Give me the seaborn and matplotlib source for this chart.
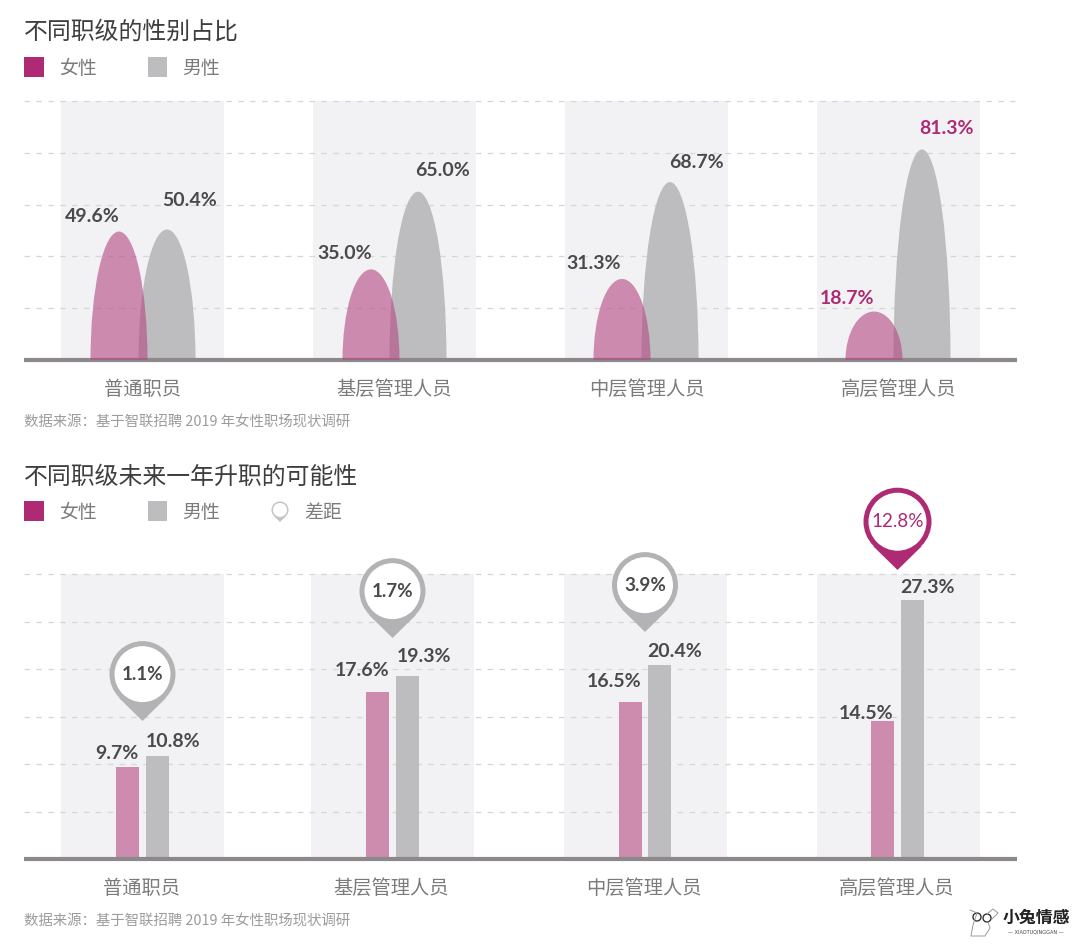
import matplotlib
matplotlib.use("Agg")
import matplotlib.pyplot as plt
from matplotlib.patches import Circle, Ellipse, Polygon, Rectangle
import numpy as np
import pandas as pd
import seaborn as sns

# data
levels = ["普通职员", "基层管理人员", "中层管理人员", "高层管理人员"]
share_female = [49.6, 35.0, 31.3, 18.7]
share_male = [50.4, 65.0, 68.7, 81.3]
promo_female = [9.7, 17.6, 16.5, 14.5]
promo_male = [10.8, 19.3, 20.4, 27.3]
promo_gap = [1.1, 1.7, 3.9, 12.8]

title_top = "不同职级的性别占比"
title_bottom = "不同职级未来一年升职的可能性"
source_text = "数据来源：基于智联招聘 2019 年女性职场现状调研"

# colours
MAGENTA = "#ae2a72"
PINK = "#b44882"
GREY = "#bdbcbe"
BAND = "#f2f2f4"
GRID = "#d6d6d6"
BASE = "#8c888b"
DARK = "#4a4a4c"
LABEL = "#7b7b7b"

# layout, x axis is in pixels of the page
W, H = 1080, 947
AX_LEFT, AX_RIGHT = 24, 1017
top_centers = [142.5, 394.5, 646.5, 898.5]
top_female_x = [119, 371, 622, 874]
top_male_x = [167, 418, 670, 922]
bottom_bands = [142.5, 392.5, 645.5, 898.5]
bottom_centers = [142.5, 392.5, 645, 897.5]
BAND_W = 163
HUMP_W = 57

# pixel offsets of value labels from the top of their mark
top_off_f = [(-27, 15), (-26, 16), (-28, 15), (-27, 13)]
top_off_m = [(23, 29), (24, 21), (26, 20), (25, 21)]
bot_off_f = [(-11, 13), (-15, 21), (-16, 21), (-16, 8)]
bot_off_m = [(16, 15), (17, 19), (15, 14), (15, 12)]
pin_tips = [721, 638, 632, 570]

sns.set_theme(style="white")
plt.rcParams["font.family"] = ["Noto Sans CJK SC", "DejaVu Sans"]

fig = plt.figure(figsize=(W / 100, H / 100), dpi=100, facecolor="white")


def make_axes(y_top, y_base):
    rect = [AX_LEFT / W, 1 - y_base / H, (AX_RIGHT - AX_LEFT) / W, (y_base - y_top) / H]
    ax = fig.add_axes(rect, facecolor="none")
    ax.set_xlim(AX_LEFT, AX_RIGHT)
    return ax


def style_axes(ax, centers, yticks):
    ax.set_ylim(yticks[0], yticks[-1])
    ax.set_yticks(yticks)
    ax.set_yticklabels([])
    ax.set_xticks(centers)
    ax.set_xticklabels(levels, fontsize=13.9, color=LABEL)
    ax.tick_params(axis="x", length=0, pad=13.5)
    ax.tick_params(axis="y", length=0)
    ax.set_xlabel("")
    ax.set_ylabel("")
    ax.set_axisbelow(True)
    ax.yaxis.grid(True, color=GRID, lw=0.9, ls=(0, (4.5, 5)), clip_on=False)
    ax.xaxis.grid(False)
    for side in ["top", "left", "right"]:
        ax.spines[side].set_visible(False)
    ax.spines["bottom"].set_color(BASE)
    ax.spines["bottom"].set_linewidth(3)
    ax.spines["bottom"].set_capstyle("butt")


def value_label(ax, x, y, off, value, color=DARK):
    ax.annotate(f"{value:.1f}%", xy=(x, y), xytext=off, textcoords="offset pixels",
                ha="center", va="center", fontsize=14, fontweight="bold",
                family=["Lato", "DejaVu Sans"], color=color, annotation_clip=False)


# top chart: elliptical humps
ax1 = make_axes(101, 360)
for c in top_centers:
    ax1.axvspan(c - BAND_W / 2, c + BAND_W / 2, color=BAND, lw=0, zorder=0)
for i in range(len(levels)):
    ax1.add_patch(Ellipse((top_male_x[i], 0), HUMP_W, 2 * share_male[i], color=GREY, lw=0, zorder=2))
    ax1.add_patch(Ellipse((top_female_x[i], 0), HUMP_W, 2 * share_female[i], color=PINK, alpha=0.61, lw=0, zorder=3))
    highlight = i == 3
    value_label(ax1, top_female_x[i], share_female[i], top_off_f[i], share_female[i], MAGENTA if highlight else DARK)
    value_label(ax1, top_male_x[i], share_male[i], top_off_m[i], share_male[i], MAGENTA if highlight else DARK)
style_axes(ax1, top_centers, [0, 20, 40, 60, 80, 100])

# bottom chart: seaborn bars
promo = pd.DataFrame({
    "x": bottom_centers * 2,
    "value": promo_female + promo_male,
    "gender": ["女性"] * 4 + ["男性"] * 4,
})
ax2 = make_axes(574, 859)
for c in bottom_bands:
    ax2.axvspan(c - BAND_W / 2, c + BAND_W / 2, color=BAND, lw=0, zorder=0)
sns.barplot(data=promo, x="x", y="value", hue="gender", ax=ax2, native_scale=True,
            palette={"女性": "#cd8bae", "男性": GREY}, saturation=1, width=60 / 252,
            gap=7 / 30, legend=False, errorbar=None, linewidth=0)
ax2.set_xlim(AX_LEFT, AX_RIGHT)
style_axes(ax2, [142, 391, 644, 897], [0, 5, 10, 15, 20, 25, 30])
for i in range(len(levels)):
    value_label(ax2, bottom_centers[i] - 15, promo_female[i], bot_off_f[i], promo_female[i])
    value_label(ax2, bottom_centers[i] + 15, promo_male[i], bot_off_m[i], promo_male[i])

# page furniture in pixel coordinates
deco = fig.add_axes([0, 0, 1, 1], facecolor="none")
deco.set_xlim(0, W)
deco.set_ylim(H, 0)
deco.axis("off")


def pin(x, tip, r, lw, color, text=None, fill=True):
    cy = tip - r * 1.42
    dy = r * 0.72
    dx = np.sqrt(r**2 - (r * 0.72 - r * 0.02) ** 2)
    deco.add_patch(Polygon([(x - dx, cy + dy), (x, tip), (x + dx, cy + dy)], color=color, lw=0, zorder=5))
    deco.add_patch(Circle((x, cy), r - lw / 2, fc="white", ec=color, lw=lw * 0.72, zorder=6))
    if text:
        deco.text(x, cy, text, ha="center", va="center", fontsize=13.6, color=color if color == MAGENTA else DARK,
                  family=["Lato", "DejaVu Sans"], fontweight="bold" if color != MAGENTA else "normal", zorder=7)


for i, tip in enumerate(pin_tips):
    col = MAGENTA if i == 3 else "#b3b2b4"
    pin(bottom_centers[i], tip, 34 if i == 3 else 33, 5, col, f"{promo_gap[i]:.1f}%")


def legend_row(y, with_gap=False):
    deco.add_patch(Rectangle((24, y - 10), 20, 20, color=MAGENTA, lw=0))
    deco.add_patch(Rectangle((148, y - 10), 19, 20, color=GREY, lw=0))
    deco.text(59, y + 1.5, "女性", fontsize=13.6, color=LABEL, va="center")
    deco.text(182, y + 1.5, "男性", fontsize=13.6, color=LABEL, va="center")
    if with_gap:
        pin(280, y + 11, 8.5, 1.5, "#c4c4c4")
        deco.text(304, y + 1.5, "差距", fontsize=13.6, color=LABEL, va="center")


deco.text(24, 32, title_top, fontsize=17.2, color="#3e3e3e", va="center")
deco.text(24, 477, title_bottom, fontsize=17.2, color="#3e3e3e", va="center")
legend_row(67)
legend_row(511, with_gap=True)
deco.text(24, 423, source_text, fontsize=10.4, color="#9c9c9c", va="center")
deco.text(24, 922, source_text, fontsize=10.4, color="#9c9c9c", va="center")

# watermark
deco.text(1036, 918, "小兔情感", fontsize=12.2, fontweight="bold", color="#222222", ha="center", va="center")
deco.text(1036, 932, "— XIAOTUQINGGAN —", fontsize=3.6, color="#444444", ha="center", va="center",
          family="DejaVu Sans")
deco.add_patch(Circle((977, 917), 4, fc="none", ec="#333333", lw=1))
deco.add_patch(Circle((987, 918), 4, fc="none", ec="#333333", lw=1))
deco.plot([970, 977, 973, 971, 985, 990, 988], [910, 913, 925, 936, 936, 928, 922], color="#999999", lw=0.7)
deco.plot([987, 993, 998, 992], [914, 909, 913, 919], color="#999999", lw=0.7)

fig.savefig("out.png", dpi=100, facecolor="white")
